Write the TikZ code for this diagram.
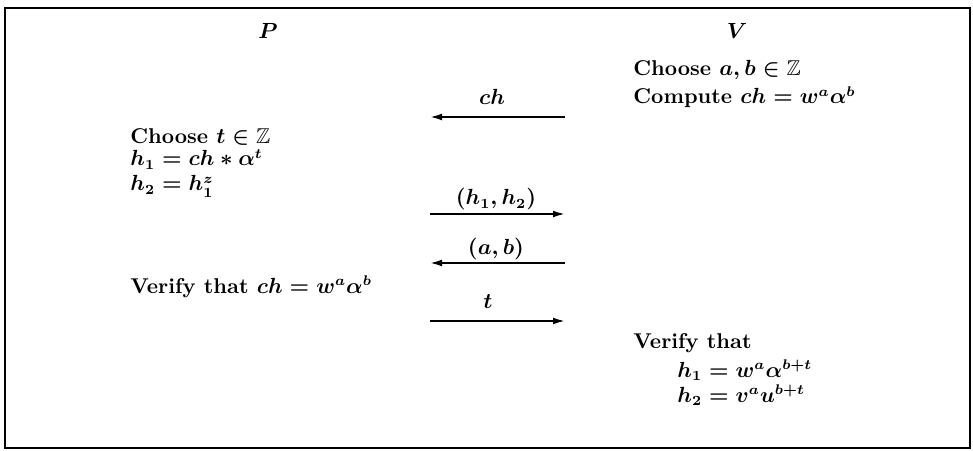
\documentclass[tikz,border=0pt]{standalone}
\usepackage{amssymb}
\usetikzlibrary{arrows.meta}

\begin{document}
\begin{tikzpicture}[x=10pt,y=10pt,>={Latex[length=6pt,width=3.4pt]},
  txt/.style={anchor=base west,inner sep=0pt,
    font=\fontsize{10.7}{12}\selectfont\bfseries\boldmath},
  lbl/.style={anchor=base,inner sep=0pt,
    font=\fontsize{10.7}{12}\selectfont\boldmath},
  msg/.style={->,line width=.9pt}]
  \useasboundingbox (0,0) rectangle (48.65,22.5);
  \draw[line width=1.2pt] (0.25,0.1) rectangle (48.5,22.1);

  % parties
  \node[lbl] (prover) at (13.4,20.55) {$P$};
  \node[lbl] (verifier) at (36.85,20.55) {$V$};

  % V: challenge
  \node[txt] (chooseab) at (31.65,18.7) {Choose $a,b\in\mathbb{Z}$};
  \node[txt] (compute) at (31.65,17.3) {Compute $ch=w^a\alpha^b$};

  % P: commitment
  \node[txt] (choset) at (6.5,15.3) {Choose $t\in\mathbb{Z}$};
  \node[txt] (hone) at (6.5,14.2) {$h_1=ch*\alpha^t$};
  \node[txt] (htwo) at (6.5,12.95) {$h_2=h_1^z$};
  \node[txt] (pcheck) at (6.5,7.85) {Verify that $ch=w^a\alpha^b$};

  % V: final check
  \node[txt] (vcheck) at (31.65,5.1) {Verify that};
  \node[txt] (vone) at (33.85,3.65) {$h_1=w^a\alpha^{b+t}$};
  \node[txt] (vtwo) at (33.85,2.4) {$h_2=v^au^{b+t}$};

  % messages
  \coordinate (l1) at (21.5,16.65);  \coordinate (r1) at (28.25,16.65);
  \coordinate (l2) at (21.5,11.8);   \coordinate (r2) at (28.25,11.8);
  \coordinate (l3) at (21.5,9.35);   \coordinate (r3) at (28.25,9.35);
  \coordinate (l4) at (21.5,6.45);   \coordinate (r4) at (28.25,6.45);

  \draw[msg] (r1) -- (l1);
  \node[lbl] (mch) at (24.6,17.25) {$ch$};
  \draw[msg] (l2) -- (r2);
  \node[lbl] (mh) at (24.8,12.25) {$(h_1,h_2)$};
  \draw[msg] (r3) -- (l3);
  \node[lbl] (mab) at (24.8,9.75) {$(a,b)$};
  \draw[msg] (l4) -- (r4);
  \node[lbl] (mt) at (24.4,7.05) {$t$};
\end{tikzpicture}
\end{document}
